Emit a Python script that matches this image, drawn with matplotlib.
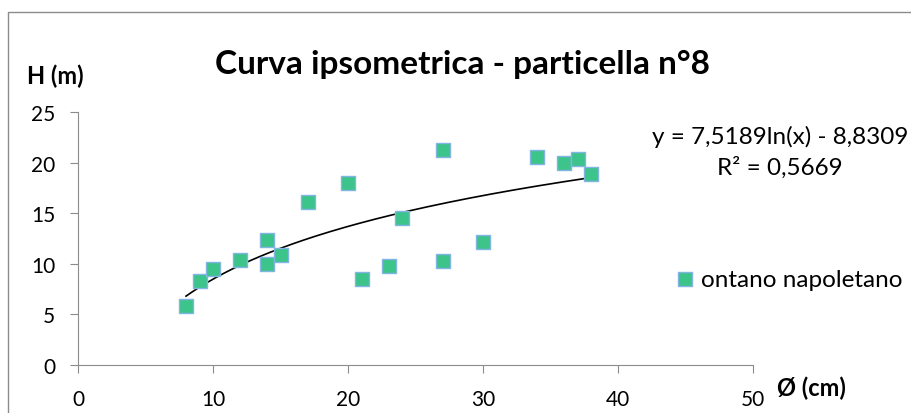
import numpy as np
import matplotlib
matplotlib.use("Agg")
import matplotlib.pyplot as plt
from matplotlib.patches import Rectangle

plt.rcParams['font.family'] = ['Lato', 'DejaVu Sans']

# diameter (cm) and height (m)
diametro = [8, 9, 10, 12, 14, 14, 15, 17, 20, 21, 23, 24, 27, 27, 30, 34, 36, 37, 38]
altezza = [5.8, 8.3, 9.5, 10.4, 12.4, 10.0, 10.9, 16.1, 18.0, 8.5, 9.8, 14.5,
           21.2, 10.3, 12.2, 20.6, 20.0, 20.4, 18.9]

# logarithmic trendline coefficients shown on the chart
coef_a = 7.5189
coef_b = -8.8309
r2 = 0.5669

W, H = 912, 414
fig = plt.figure(figsize=(W/100, H/100), dpi=100)
ax = fig.add_axes([78/W, 1 - 366/H, (753 - 78)/W, (366 - 113)/H])

# outer chart frame
fig.add_artist(Rectangle((8/W, -0.05), 1.0, 1 - 13/H + 0.05, transform=fig.transFigure,
                         fill=False, edgecolor='#8c8c8c', linewidth=1))

ax.scatter(diametro, altezza, marker='s', s=115, facecolor='#3cc48a',
           edgecolor='#82b4e4', linewidth=1.0, zorder=3, label='ontano napoletano')

xs = np.linspace(min(diametro), max(diametro), 200)
ax.plot(xs, coef_a * np.log(xs) + coef_b, color='black', linewidth=1.2, zorder=2)

ax.set_xlim(0, 50)
ax.set_ylim(0, 25)
ax.set_xticks(range(0, 51, 10))
ax.set_yticks(range(0, 26, 5))
for s in ['top', 'right']:
    ax.spines[s].set_visible(False)
for s in ['left', 'bottom']:
    ax.spines[s].set_color('#8c8c8c')
ax.tick_params(axis='both', colors='#8c8c8c', labelcolor='black', labelsize=15, length=5.5)
ax.tick_params(axis='x', pad=12)
ax.tick_params(axis='y', pad=11)

fig.text(462/W, 1 - 64/H, 'Curva ipsometrica - particella n°8', ha='center', va='center',
         fontsize=24, fontweight='bold')
fig.text(27/W, 1 - 76/H, 'H (m)', ha='left', va='center', fontsize=17, fontweight='bold')
fig.text(777/W, 1 - 388/H, 'Ø (cm)', ha='left', va='center', fontsize=17, fontweight='bold')

fig.text(780/W, 1 - 137/H, f'y = {coef_a:.4f}ln(x) - {-coef_b:.4f}'.replace('.', ','),
         ha='center', va='center', fontsize=17.5)
fig.text(780/W, 1 - 168/H, f'R² = {r2:.4f}'.replace('.', ','),
         ha='center', va='center', fontsize=17.5)

fig.legend(loc='center left', bbox_to_anchor=(675/W, 1 - 280/H), frameon=False,
           fontsize=17.5, handlelength=0.8, handletextpad=0.25,
           borderaxespad=0, borderpad=0, scatterpoints=1)

fig.savefig('out.png', dpi=100)
